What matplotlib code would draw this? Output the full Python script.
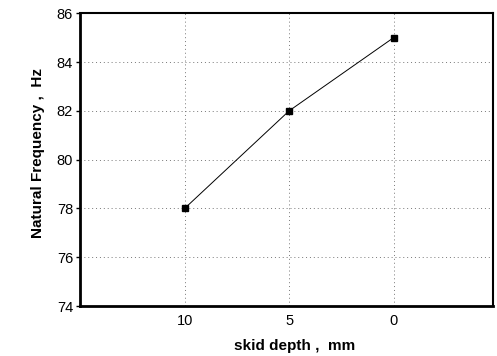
import matplotlib.pyplot as plt

# skid depth categories and natural frequency readings
depth_labels = ["10", "5", "0"]
freq_hz = [78, 82, 85]

plt.rcParams['font.family'] = ['Liberation Sans', 'DejaVu Sans']

fig = plt.figure(figsize=(4.97, 3.56), dpi=100)
ax = fig.add_axes([0.161, 0.140, 0.831, 0.823])

xpos = list(range(1, len(depth_labels) + 1))
ax.plot(xpos, freq_hz, color="black", lw=0.7, marker="s", ms=4.5,
        markerfacecolor="black", markeredgecolor="black")

ax.set_xlim(0, 3.95)
ax.set_ylim(74, 86)
ax.set_yticks(range(74, 87, 2))
ax.set_xticks(xpos)
ax.set_xticklabels(depth_labels)
ax.tick_params(axis="x", length=0, pad=6, labelsize=10.5)
ax.tick_params(axis="y", length=3, width=1, direction="out", pad=2, labelsize=10.5)

ax.grid(True, color="#777777", linestyle=(0, (1, 3)), linewidth=0.7)
for side in ["left", "bottom"]:
    ax.spines[side].set_linewidth(2)
for side in ["top", "right"]:
    ax.spines[side].set_linewidth(1.5)

ax.set_xlabel("skid depth ,  mm", fontweight="bold", fontsize=11)
ax.set_ylabel("Natural Frequency ,  Hz", fontweight="bold", fontsize=11)
ax.xaxis.set_label_coords(0.52, -0.113)
ax.xaxis.label.set_va("top")
ax.yaxis.set_label_coords(-0.085, 0.522)

fig.savefig("out.png", dpi=100)
